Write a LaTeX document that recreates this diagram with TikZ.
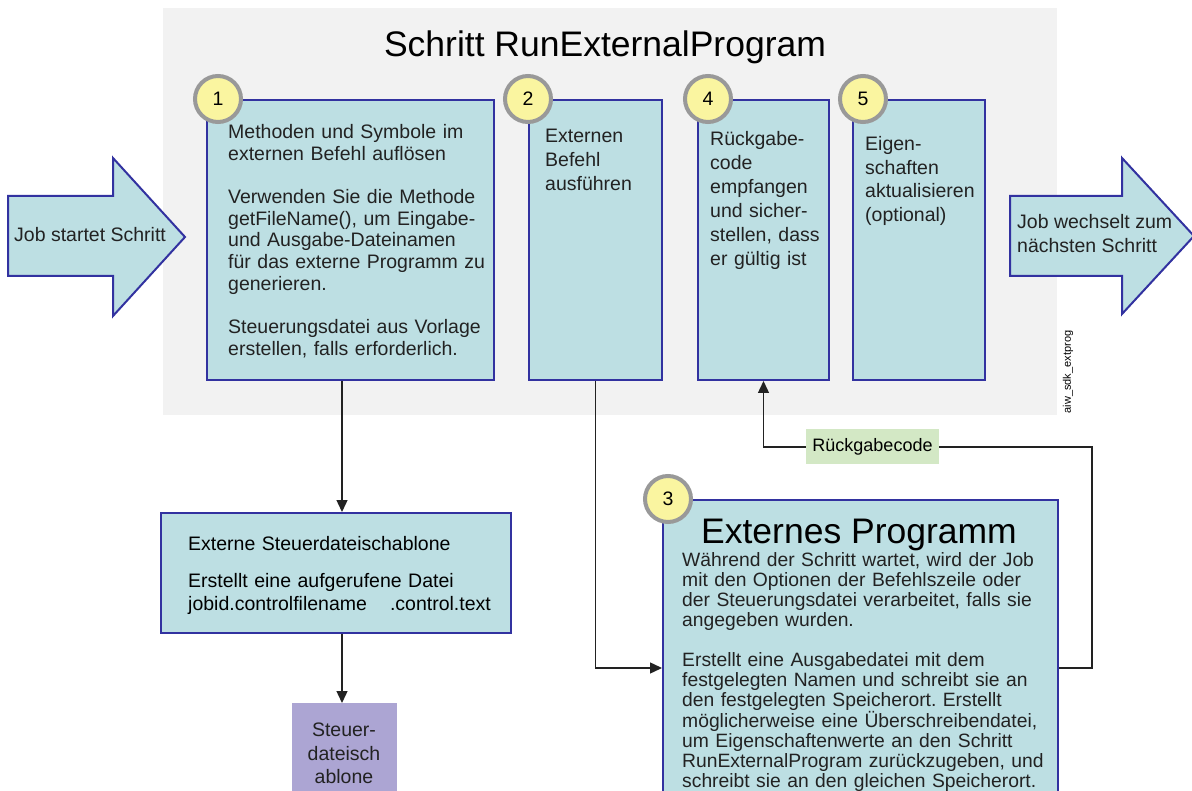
\documentclass[tikz,border=0pt]{standalone}
\usepackage{fontspec}
\setmainfont{Liberation Sans}
\usetikzlibrary{arrows.meta,calc}

\definecolor{panel}{RGB}{242,242,242}
\definecolor{boxfill}{RGB}{189,223,227}
\definecolor{boxline}{RGB}{50,50,160}
\definecolor{badgefill}{RGB}{250,245,160}
\definecolor{ringgray}{RGB}{153,153,153}
\definecolor{tmplfill}{RGB}{172,165,211}
\definecolor{codefill}{RGB}{211,232,197}
\definecolor{inktext}{RGB}{34,34,34}

\frenchspacing

\begin{document}
\begin{tikzpicture}[x=1pt,y=-1pt,
  stepbox/.style={draw=boxline, line width=2pt, fill=boxfill, anchor=north west, inner sep=0pt},
  badge/.style={circle, draw=ringgray, line width=4pt, fill=badgefill, minimum size=46pt, inner sep=0pt,
    font=\fontsize{19.5}{20}\selectfont},
  txt/.style={anchor=north west, inner sep=0pt, align=left, text=inktext},
  bigarrow/.style={draw=boxline, line width=2pt, fill=boxfill, line join=miter},
  conn/.style={draw=inktext, line width=1.4pt, -{Triangle[length=12pt,width=11pt]}},
  plain/.style={draw=inktext, line width=1.4pt}
]
\useasboundingbox (0,0) rectangle (1192,791);

% grey panel of the step
\fill[panel] (163,8) rectangle (1057,415);
\node[anchor=base, inner sep=0pt, font=\fontsize{35.5}{36}\selectfont] (title) at (605,57) {Schritt RunExternalProgram};

% entering and leaving arrows
\draw[bigarrow] (8,196) -- (113,196) -- (113,158) -- (185,237) -- (113,316) -- (113,276) -- (8,276) -- cycle;
\node[txt, font=\fontsize{19.5}{24}\selectfont] (jobin) at (14,227) {Job startet Schritt};
\draw[bigarrow] (1010,196) -- (1122,196) -- (1122,158) -- (1194,236) -- (1122,314) -- (1122,276) -- (1010,276) -- cycle;
\node[txt, font=\fontsize{19.5}{24}\selectfont] (jobout) at (1017,214) {Job wechselt zum\\nächsten Schritt};

% step boxes
\node[stepbox, minimum width=287pt, minimum height=280pt] (b1) at (206,99) {};
\node[stepbox, minimum width=133pt, minimum height=280pt] (b2) at (528,99) {};
\node[stepbox, minimum width=131pt, minimum height=280pt] (b4) at (697,99) {};
\node[stepbox, minimum width=132pt, minimum height=280pt] (b5) at (852,99) {};
\node[stepbox, minimum width=395pt, minimum height=336pt] (b3) at (662,499) {};
\node[stepbox, minimum width=350pt, minimum height=120pt] (ext) at (160,512) {};
\node[anchor=north west, fill=tmplfill, inner sep=0pt, minimum width=105pt, minimum height=100pt] (tmpl) at (292,703) {};

% box texts
\node[txt, text width=280pt, font=\fontsize{19.5}{21.7}\selectfont] (t1) at (228,124)
  {Methoden und Symbole im\\externen Befehl auflösen\\[21.7pt]
   Verwenden Sie die Methode\\getFileName(), um Eingabe-\\und Ausgabe-Dateinamen\\für das externe Programm zu\\generieren.\\[21.7pt]
   Steuerungsdatei aus Vorlage\\erstellen, falls erforderlich.};
\node[txt, text width=120pt, font=\fontsize{19.5}{24}\selectfont] (t2) at (545,129)
  {Externen\\Befehl\\ausführen};
\node[txt, text width=125pt, font=\fontsize{19.5}{24}\selectfont] (t4) at (710,131)
  {Rückgabe-\\code\\empfangen\\und sicher-\\stellen, dass\\er gültig ist};
\node[txt, text width=130pt, font=\fontsize{19.5}{23.7}\selectfont] (t5) at (865,136)
  {Eigen-\\schaften\\aktualisieren\\(optional)};
\node[anchor=base, inner sep=0pt, font=\fontsize{35.5}{36}\selectfont] (t3head) at (859,543) {Externes Programm};
\node[txt, text width=375pt, font=\fontsize{19.3}{20}\selectfont] (t3) at (682,552)
  {Während der Schritt wartet, wird der Job\\mit den Optionen der Befehlszeile oder\\der Steuerungsdatei verarbeitet, falls sie\\angegeben wurden.\\[20pt]
   Erstellt eine Ausgabedatei mit dem\\festgelegten Namen und schreibt sie an\\den festgelegten Speicherort. Erstellt\\möglicherweise eine Überschreibendatei,\\um Eigenschaftenwerte an den Schritt\\RunExternalProgram zurückzugeben, und\\schreibt sie an den gleichen Speicherort.};
\node[txt, text width=330pt, font=\fontsize{19.5}{23}\selectfont, text=black] (text) at (188,536)
  {Externe Steuerdateischablone\\[14pt]
   Erstellt eine aufgerufene Datei\\jobid.controlfilename\hspace{23pt}.control.text};
\node[anchor=north, inner sep=0pt, align=center, text=inktext, font=\fontsize{19.5}{23.5}\selectfont] (ttmpl) at (344,723)
  {Steuer-\\dateisch\\ablone};

% step numbers
\node[badge] (n1) at (218,99) {1};
\node[badge] (n2) at (528,99) {2};
\node[badge] (n4) at (708,99) {4};
\node[badge] (n5) at (863,99) {5};
\node[badge] (n3) at (668,499) {3};

% return code label
\node[fill=codefill, minimum width=133pt, minimum height=35pt, inner sep=0pt, font=\fontsize{18}{20}\selectfont] (rc) at (872.5,447) {Rückgabecode};

% drawing id
\node[rotate=90, inner sep=0pt, font=\fontsize{11}{12}\selectfont] (tag) at (1068,372) {aiw\_sdk\_extprog};

% connectors
\draw[conn] (342,0 |- b1.south) -- (342,0 |- ext.north);
\draw[conn] (342,0 |- ext.south) -- (342,0 |- tmpl.north);
\draw[conn] (b2.south) |- (b3.west);
\draw[plain] (b3.east) -- (1092,0 |- b3.east) |- (rc.east);
\draw[conn] (rc.west) -| (b4.south);
\end{tikzpicture}
\end{document}
